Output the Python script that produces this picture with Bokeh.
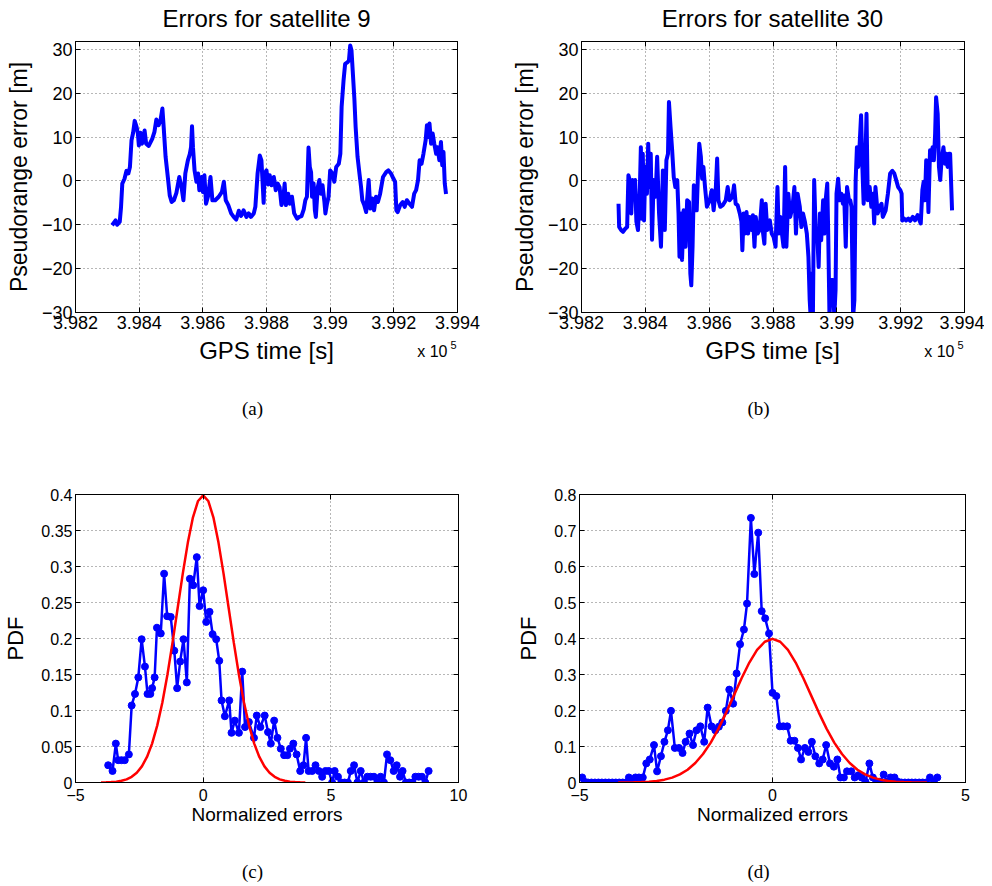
from bokeh.plotting import figure
from bokeh.models import LinearAxis, FixedTicker
from bokeh.core.properties import value
from bokeh.layouts import column, row
from bokeh.embed import file_html
from bokeh.resources import INLINE

# Erros de pseudodistancia (satelites 9 e 30) e suas PDFs normalizadas

SANS = "Liberation Sans"
SERIF = "Liberation Serif"
BLUE = "#0000ff"
RED = "#ff0000"

# ---- dados ----

# satelite 9: tempo GPS [s] e erro [m]
t9 = [398315, 398326, 398331, 398339, 398343, 398347, 398354, 398360, 398366, 398371,
      398376, 398381, 398386, 398392, 398396, 398399, 398404, 398409, 398417, 398422,
      398430, 398441, 398448, 398454, 398461, 398467, 398473, 398477, 398483, 398490,
      398496, 398502, 398509, 398517, 398526, 398533, 398539, 398545, 398553, 398559,
      398563, 398566, 398569, 398574, 398580, 398585, 398589, 398596, 398600, 398605,
      398610, 398616, 398624, 398630, 398639, 398650, 398660, 398666, 398672, 398680,
      398689, 398697, 398705, 398713, 398720, 398728, 398737, 398744, 398751, 398760,
      398765, 398772, 398779, 398784, 398788, 398791, 398794, 398800, 398805, 398810,
      398816, 398823, 398829, 398835, 398841, 398847, 398852, 398857, 398861, 398868,
      398873, 398880, 398887, 398896, 398903, 398910, 398917, 398922, 398927, 398932,
      398936, 398940, 398943, 398948, 398952, 398955, 398961, 398966, 398971, 398976,
      398982, 398985, 398990, 398995, 399000, 399007, 399013, 399019, 399027, 399032,
      399036, 399042, 399047, 399055, 399059, 399063, 399067, 399072, 399076, 399080,
      399086, 399092, 399097, 399101, 399107, 399113, 399121, 399126, 399132, 399138,
      399144, 399150, 399157, 399166, 399176, 399183, 399191, 399199, 399204, 399208,
      399212, 399220, 399228, 399234, 399241, 399249, 399257, 399264, 399270, 399276,
      399281, 399287, 399293, 399300, 399304, 399308, 399312, 399317, 399322, 399327,
      399333, 399337, 399343, 399348, 399352, 399356, 399360, 399364]
err9 = [-10.1, -9.0, -10.0, -9.3, -6.0, -0.6, 0.5, 2.3, 1.7, 3.2,
        9.3, 11.0, 13.7, 12.3, 10.8, 8.1, 11.0, 8.5, 11.5, 8.5,
        8.0, 9.6, 11.2, 14.0, 12.7, 13.8, 16.5, 12.3, 5.5, 0.9,
        -3.3, -4.8, -4.4, -2.7, 0.9, -1.4, -4.4, 1.7, 4.7, 6.1,
        7.7, 12.5, 7.7, 2.4, -0.2, 1.7, -2.1, 0.9, -2.5, 1.3,
        -5.2, -3.6, 0.9, -4.4, -4.4, -3.6, -2.5, -0.2, -4.4, -5.5,
        -7.4, -8.2, -8.8, -6.8, -8.0, -6.7, -8.2, -7.4, -8.2, -7.4,
        -5.9, 1.7, 5.8, 4.7, -0.6, -5.0, 1.7, 2.4, -0.8, 1.3,
        -1.0, 0.9, -2.1, -0.6, -1.4, -5.5, -4.4, -0.6, -5.5, -2.9,
        -5.2, -3.6, -7.4, -8.6, -8.2, -8.0, -6.5, -4.4, -3.6, 7.6,
        3.2, 2.0, -3.6, -0.6, -6.7, -8.2, -1.4, 0.2, -2.9, -1.0,
        -4.8, -7.4, -5.2, -3.6, 2.4, 1.7, -0.2, 3.2, 3.9, 6.2,
        16.9, 22.9, 26.7, 27.1, 27.5, 30.9, 29.8, 23.7, 18.8, 12.3,
        5.5, 1.7, -1.4, -4.4, -5.5, -7.1, 0.2, -6.3, -4.0, -6.7,
        -3.6, -4.8, -2.9, 0.9, 2.0, 2.4, 1.7, 0.5, -0.2, -6.7,
        -7.1, -5.5, -4.8, -5.9, -4.4, -5.2, -5.9, -2.9, -2.1, 0.2,
        4.7, 3.9, 6.2, 9.3, 12.7, 10.0, 13.1, 8.5, 10.8, 8.5,
        6.2, 7.7, 4.7, 8.9, 3.6, 6.6, -0.6, -3.0]

# satelite 30
t30 = [398316, 398318, 398324, 398330, 398337, 398343, 398347, 398351, 398356, 398360,
       398364, 398368, 398372, 398377, 398383, 398386, 398389, 398392, 398396, 398400,
       398405, 398409, 398413, 398417, 398421, 398426, 398432, 398437, 398443, 398449,
       398455, 398461, 398466, 398471, 398474, 398479, 398484, 398489, 398494, 398500,
       398504, 398507, 398512, 398515, 398520, 398526, 398531, 398537, 398541, 398544,
       398548, 398552, 398557, 398561, 398565, 398569, 398574, 398578, 398582, 398587,
       398593, 398602, 398608, 398614, 398621, 398625, 398629, 398635, 398643, 398652,
       398658, 398664, 398673, 398678, 398683, 398689, 398696, 398701, 398704, 398708,
       398712, 398717, 398722, 398727, 398733, 398737, 398742, 398746, 398752, 398758,
       398765, 398769, 398773, 398777, 398782, 398790, 398796, 398802, 398808, 398814,
       398818, 398823, 398828, 398833, 398838, 398842, 398848, 398854, 398861, 398867,
       398872, 398877, 398884, 398889, 398894, 398900, 398906, 398911, 398915, 398918,
       398922, 398925, 398929, 398934, 398938, 398943, 398947, 398951, 398957, 398961,
       398965, 398970, 398973, 398977, 398982, 398988, 398992, 398996, 398999, 399004,
       399009, 399014, 399019, 399023, 399028, 399032, 399038, 399042, 399046, 399051,
       399055, 399059, 399063, 399067, 399071, 399076, 399080, 399084, 399089, 399093,
       399097, 399103, 399108, 399113, 399117, 399121, 399128, 399134, 399140, 399144,
       399153, 399160, 399167, 399174, 399180, 399186, 399192, 399199, 399203, 399205,
       399211, 399217, 399224, 399230, 399238, 399245, 399253, 399259, 399263, 399268,
       399272, 399276, 399280, 399284, 399287, 399292, 399296, 399300, 399304, 399308,
       399311, 399316, 399320, 399324, 399328, 399334, 399339, 399343, 399347, 399351,
       399355, 399361]
err30 = [-5.2, -10.5, -11.2, -11.6, -10.9, -10.5, 1.3, 0.2, -7.4, 0.2,
         -1.4, 0.2, -9.3, -11.2, -1.4, 7.7, -8.6, 6.2, -9.0, 3.2,
         -2.9, 8.5, -1.4, 6.2, -13.4, 0.2, -3.6, 5.5, -7.4, -15.0,
         2.4, -11.2, 4.7, 6.2, 18.0, 12.3, 7.0, 0.9, -1.4, 0.2,
         -7.4, -17.3, -7.4, -18.0, -6.7, -15.0, -4.4, -4.8, -21.1, -23.8,
         -15.0, -1.0, -2.9, -6.7, 1.7, 8.5, 5.5, 0.5, 3.2, -1.4,
         -5.9, -4.4, -2.1, -6.7, -1.4, 5.1, -4.4, -5.9, -5.5, -4.4,
         -1.4, -4.4, -3.6, -1.0, -5.2, -5.5, -7.4, -9.3, -15.8, -7.4,
         -12.0, -7.1, -12.0, -8.2, -11.2, -7.8, -15.0, -8.2, -12.0, -11.2,
         -4.4, -12.0, -14.3, -5.2, -11.2, -9.0, -12.0, -12.8, -15.0, -1.4,
         -12.0, -8.2, -12.0, -15.0, 3.2, -15.0, -2.9, -8.2, -5.9, -1.4,
         -12.0, -2.9, -5.9, -10.5, -7.4, -9.3, -12.0, -17.3, -27.2, -31.0,
         -21.1, -31.0, 0.2, -12.0, -11.2, -19.6, -7.4, -13.5, -4.4, -12.0,
         -4.4, -0.6, -12.0, -31.0, -22.6, -22.6, -31.0, -24.9, -2.9, 0.5,
         -4.4, -2.9, -5.2, -3.3, -15.0, -1.4, -4.4, -4.4, -5.9, -31.0,
         -27.2, 0.2, 7.7, 3.2, 7.7, 15.0, 3.2, -5.2, 3.2, 15.3,
         -4.4, -1.4, -5.9, -2.9, -9.7, -1.4, -7.4, -5.9, -5.2, -8.2,
         -6.7, -2.9, 1.7, 2.3, 1.7, 0.2, -1.4, -2.1, -2.9, -9.0,
         -8.6, -9.0, -8.6, -9.1, -8.2, -9.0, -7.8, -9.0, -9.7, -2.1,
         -0.2, -4.4, 4.7, 0.9, -7.1, 7.0, 4.7, 7.7, 4.7, 10.8,
         19.1, 15.3, 3.2, 0.2, 4.7, 7.7, 3.9, 6.2, 3.2, 6.2,
         6.2, -6.7]

# PDF empirica dos erros normalizados, satelite 9
z9 = [-3.72, -3.55, -3.42, -3.33, -3.20, -3.07, -2.91, -2.80, -2.67, -2.54,
      -2.41, -2.28, -2.18, -2.07, -2.00, -1.90, -1.81, -1.66, -1.53, -1.41,
      -1.27, -1.13, -1.02, -0.90, -0.77, -0.64, -0.52, -0.39, -0.25, -0.14,
      0.00, 0.12, 0.25, 0.37, 0.51, 0.63, 0.72, 0.85, 1.02, 1.11,
      1.24, 1.40, 1.53, 1.64, 1.79, 1.99, 2.10, 2.24, 2.41, 2.54,
      2.65, 2.78, 2.91, 3.04, 3.17, 3.30, 3.40, 3.53, 3.66, 3.80,
      3.93, 4.03, 4.13, 4.27, 4.40, 4.53, 4.66, 4.79, 4.92, 5.05,
      5.15, 5.28, 5.41, 5.54, 5.67, 5.78, 5.91, 6.04, 6.17, 6.30,
      6.43, 6.56, 6.69, 6.82, 6.95, 7.08, 7.20, 7.33, 7.46, 7.58,
      7.71, 7.81, 7.94, 8.07, 8.20, 8.31, 8.44, 8.57, 8.70, 8.83]
pdf9 = [0.024, 0.016, 0.054, 0.031, 0.031, 0.031, 0.039, 0.107, 0.123, 0.146,
        0.199, 0.161, 0.123, 0.123, 0.131, 0.146, 0.215, 0.207, 0.290, 0.231,
        0.230, 0.183, 0.131, 0.168, 0.199, 0.139, 0.283, 0.274, 0.313, 0.245,
        0.267, 0.223, 0.237, 0.206, 0.199, 0.169, 0.114, 0.092, 0.114, 0.069,
        0.086, 0.069, 0.154, 0.077, 0.084, 0.062, 0.093, 0.077, 0.093, 0.070,
        0.054, 0.086, 0.062, 0.047, 0.038, 0.038, 0.047, 0.054, 0.039, 0.016,
        0.024, 0.062, 0.016, 0.016, 0.024, 0.016, 0.008, 0.016, 0.016, 0.0,
        0.016, 0.008, 0.0, 0.0, 0.0, 0.016, 0.024, 0.0, 0.016, 0.0,
        0.008, 0.008, 0.008, 0.0, 0.008, 0.0, 0.039, 0.031, 0.016, 0.024,
        0.008, 0.016, 0.0, 0.0, 0.0, 0.008, 0.008, 0.008, 0.0, 0.016]

# PDF empirica, satelite 30
z30 = [-4.93, -4.87, -4.78, -4.69, -4.60, -4.51, -4.42, -4.33, -4.24, -4.15,
       -4.06, -3.97, -3.88, -3.80, -3.72, -3.64, -3.55, -3.46, -3.36, -3.27,
       -3.18, -3.07, -2.99, -2.89, -2.80, -2.71, -2.63, -2.53, -2.42, -2.33,
       -2.25, -2.15, -2.06, -1.97, -1.87, -1.77, -1.68, -1.58, -1.48, -1.39,
       -1.30, -1.21, -1.12, -1.02, -0.93, -0.84, -0.74, -0.66, -0.56, -0.47,
       -0.37, -0.28, -0.19, -0.09, 0.00, 0.10, 0.19, 0.28, 0.38, 0.47,
       0.57, 0.66, 0.74, 0.84, 0.93, 1.02, 1.11, 1.21, 1.30, 1.39,
       1.49, 1.59, 1.68, 1.76, 1.85, 1.93, 2.04, 2.13, 2.22, 2.31,
       2.41, 2.51, 2.60, 2.69, 2.78, 2.88, 2.97, 3.06, 3.16, 3.25,
       3.34, 3.43, 3.52, 3.61, 3.70, 3.80, 3.89, 3.98, 4.08, 4.18,
       4.27]
pdf30 = [0.014, 0.002, 0.0, 0.0, 0.0, 0.0, 0.0, 0.0, 0.0, 0.0,
         0.0, 0.0, 0.0, 0.0, 0.014, 0.0, 0.014, 0.014, 0.014, 0.053,
         0.064, 0.104, 0.031, 0.073, 0.113, 0.145, 0.199, 0.096, 0.096, 0.082,
         0.113, 0.136, 0.104, 0.145, 0.156, 0.113, 0.208, 0.156, 0.145, 0.155,
         0.167, 0.199, 0.258, 0.219, 0.303, 0.384, 0.425, 0.497, 0.735, 0.579,
         0.694, 0.476, 0.456, 0.414, 0.249, 0.240, 0.156, 0.156, 0.156, 0.116,
         0.116, 0.096, 0.064, 0.096, 0.085, 0.113, 0.073, 0.053, 0.064, 0.104,
         0.053, 0.044, 0.064, 0.014, 0.014, 0.031, 0.031, 0.014, 0.020, 0.014,
         0.002, 0.053, 0.014, 0.002, 0.002, 0.022, 0.002, 0.014, 0.014, 0.002,
         0.0, 0.0, 0.0, 0.0, 0.0, 0.0, 0.0, 0.0, 0.014, 0.002,
         0.014]

# curva vermelha (normal padrao), lida ponto a ponto
zg = [-4.0, -3.8, -3.6, -3.4, -3.2, -3.0, -2.8, -2.6, -2.4, -2.2,
      -2.0, -1.8, -1.6, -1.4, -1.2, -1.0, -0.8, -0.6, -0.4, -0.2,
      0.0, 0.2, 0.4, 0.6, 0.8, 1.0, 1.2, 1.4, 1.6, 1.8,
      2.0, 2.2, 2.4, 2.6, 2.8, 3.0, 3.2, 3.4, 3.6, 3.8, 4.0]
pdfg = [0.0001, 0.0003, 0.0006, 0.0012, 0.0024, 0.0044, 0.0079, 0.0136, 0.0224, 0.0355,
        0.0540, 0.0790, 0.1109, 0.1497, 0.1942, 0.2420, 0.2897, 0.3332, 0.3683, 0.3910,
        0.3989, 0.3910, 0.3683, 0.3332, 0.2897, 0.2420, 0.1942, 0.1497, 0.1109, 0.0790,
        0.0540, 0.0355, 0.0224, 0.0136, 0.0079, 0.0044, 0.0024, 0.0012, 0.0006, 0.0003,
        0.0001]

# ticks
time_ticks = [398200, 398400, 398600, 398800, 399000, 399200, 399400]
time_labels = ["3.982", "3.984", "3.986", "3.988", "3.99", "3.992", "3.994"]
err_ticks = [-30, -20, -10, 0, 10, 20, 30]
err_labels = ["\u221230", "\u221220", "\u221210", "0", "10", "20", "30"]
z9_ticks = [-5, 0, 5, 10]
z9_labels = ["\u22125", "0", "5", "10"]
z30_ticks = [-5, 0, 5]
z30_labels = ["\u22125", "0", "5"]
pdf9_ticks = [0.0, 0.05, 0.1, 0.15, 0.2, 0.25, 0.3, 0.35, 0.4]
pdf9_labels = ["0", "0.05", "0.1", "0.15", "0.2", "0.25", "0.3", "0.35", "0.4"]
pdf30_ticks = [0.0, 0.1, 0.2, 0.3, 0.4, 0.5, 0.6, 0.7, 0.8]
pdf30_labels = ["0", "0.1", "0.2", "0.3", "0.4", "0.5", "0.6", "0.7", "0.8"]


def painel(fw, fh, borda, xr, yr, xt, xl, yt, yl, tick_px):
    esq, dir_, topo, base = borda
    p = figure(frame_width=fw, frame_height=fh, x_range=xr, y_range=yr,
               output_backend="svg", toolbar_location=None,
               min_border_left=esq, min_border_right=dir_,
               min_border_top=topo, min_border_bottom=base)
    p.background_fill_color = "white"
    p.border_fill_color = "white"
    p.outline_line_color = "black"
    p.outline_line_width = 1

    xtick = FixedTicker(ticks=xt)
    ytick = FixedTicker(ticks=yt)
    for ax, tk, ticks, labels in ((p.below[0], xtick, xt, xl), (p.left[0], ytick, yt, yl)):
        ax.ticker = tk
        ax.major_label_overrides = dict(zip(ticks, labels))
        ax.major_label_text_font = SANS
        ax.major_label_text_font_size = tick_px
        ax.major_label_text_color = "black"
        ax.major_tick_in = 5
        ax.major_tick_out = 0
        ax.minor_tick_line_color = None
        ax.axis_line_color = "black"
        ax.major_tick_line_color = "black"
        ax.axis_label_text_font = SANS
        ax.axis_label_text_font_style = "normal"
        ax.axis_label_text_color = "black"
    p.left[0].major_label_standoff = 3

    # ticks do lado de cima e da direita (caixa fechada)
    for lado, tk in (("above", xtick), ("right", ytick)):
        extra = LinearAxis(ticker=tk, major_label_text_font_size="0px",
                           major_label_standoff=0, major_tick_in=5, major_tick_out=0,
                           minor_tick_line_color=None, axis_line_color="black")
        p.add_layout(extra, lado)

    p.xgrid.ticker = xtick
    p.ygrid.ticker = ytick
    p.xgrid.grid_line_color = "#6e6e6e"
    p.ygrid.grid_line_color = "#6e6e6e"
    p.xgrid.grid_line_dash = "1 3"
    p.ygrid.grid_line_dash = "1 3"
    return p


def faixa(w, h, textos):
    # faixa de texto: eixo x em px, eixo y em px a partir do topo
    s = figure(width=w, height=h, x_range=(0, w), y_range=(h, 0),
               output_backend="svg", toolbar_location=None, min_border=0,
               x_axis_location=None, y_axis_location=None)
    s.outline_line_color = None
    s.grid.visible = False
    s.background_fill_color = "white"
    s.border_fill_color = "white"
    for x, y, txt, fonte, tam, alin in textos:
        s.text(x=[x], y=[y], text=[txt], text_font=value(fonte),
               text_font_size=value(tam), text_align=alin, text_baseline="middle",
               text_color="black")
    return s


def serie(p, t, e):
    p.line(t, e, line_color=BLUE, line_width=4, line_join="round")
    p.below[0].major_label_standoff = 3
    p.left[0].axis_label = "Pseudorange error [m]"
    p.left[0].axis_label_text_font_size = "23px"
    p.left[0].axis_label_standoff = 7


def densidade(p, z, f):
    p.line(z, f, line_color=BLUE, line_width=2.5)
    p.scatter(z, f, size=7, fill_color=BLUE, line_color=BLUE)
    p.line(zg, pdfg, line_color=RED, line_width=2.5)
    p.below[0].major_label_standoff = 6
    p.below[0].axis_label = "Normalized errors"
    p.below[0].axis_label_text_font_size = "19px"
    p.below[0].axis_label_standoff = 0
    p.left[0].axis_label = "PDF"
    p.left[0].axis_label_text_font_size = "22px"
    p.left[0].axis_label_standoff = 10


# titulos
ta = faixa(504, 34, [(266, 18, "Errors for satellite 9", SANS, "24px", "center")])
tb = faixa(480, 34, [(268, 18, "Errors for satellite 30", SANS, "24px", "center")])

pa = painel(382, 271, (75, 47, 7, 24), (398200, 399400), (-30, 31.8),
            time_ticks, time_labels, err_ticks, err_labels, "18px")
serie(pa, t9, err9)

pb = painel(383, 271, (77, 20, 7, 24), (398200, 399400), (-30, 31.8),
            time_ticks, time_labels, err_ticks, err_labels, "18px")
serie(pb, t30, err30)

# rotulo do eixo x, fator de escala e legenda (a)/(b)
fa = faixa(504, 84, [
    (266, 14, "GPS time [s]", SANS, "24px", "center"),
    (447, 15, "x 10", SANS, "16px", "right"),
    (450, 8, "5", SANS, "11px", "left"),
    (252, 72, "(a)", SERIF, "19px", "center"),
])
fb = faixa(480, 84, [
    (268, 14, "GPS time [s]", SANS, "24px", "center"),
    (450, 15, "x 10", SANS, "16px", "right"),
    (453, 8, "5", SANS, "11px", "left"),
    (254, 72, "(b)", SERIF, "19px", "center"),
])

pc = painel(383, 288, (74, 47, 74, 74), (-5, 10), (0, 0.4),
            z9_ticks, z9_labels, pdf9_ticks, pdf9_labels, "16px")
densidade(pc, z9, pdf9)

pd_ = painel(386, 288, (74, 20, 74, 74), (-5, 5), (0, 0.8),
             z30_ticks, z30_labels, pdf30_ticks, pdf30_labels, "16px")
densidade(pd_, z30, pdf30)

fc = faixa(504, 28, [(252, 15, "(c)", SERIF, "19px", "center")])
fd = faixa(480, 28, [(254, 15, "(d)", SERIF, "19px", "center")])

layout = column(row(ta, tb), row(pa, pb), row(fa, fb), row(pc, pd_), row(fc, fd))

open("out.html", "w").write(file_html(layout, INLINE))
